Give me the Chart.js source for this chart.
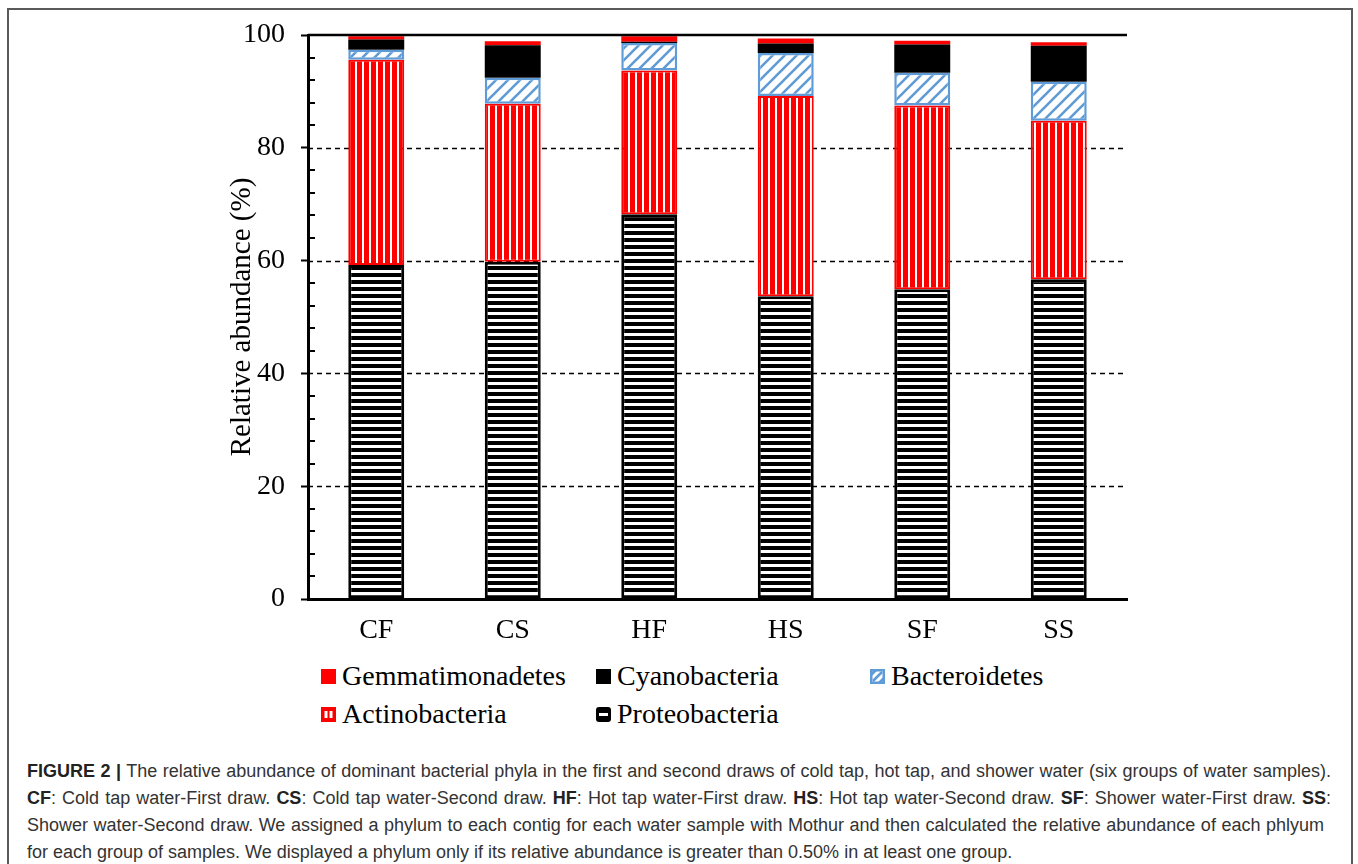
<!DOCTYPE html>
<html>
<head>
<meta charset="utf-8">
<script src="https://cdn.jsdelivr.net/npm/chart.js@4.4.1/dist/chart.umd.min.js"></script>
<style>
  html, body { margin: 0; padding: 0; background: #fff; }
  body { width: 1358px; height: 864px; position: relative; overflow: hidden; }
  #frame { position: absolute; left: 7px; top: 8px; width: 1346px; height: 900px; border: 2px solid #5a5a5a; box-sizing: border-box; }
  #plot { position: absolute; left: 0; top: 0; width: 1358px; height: 660px; }
  .lg { position: absolute; font-family: "Liberation Serif", "Times New Roman", serif; font-size: 28px; line-height: 28px; color: #000; white-space: nowrap; }
  .sw { position: absolute; width: 15px; height: 15px; }
  .cap { position: absolute; left: 27px; width: 1304px; font-family: "Liberation Sans Narrow", "Liberation Sans", Arial, sans-serif; font-size: 18px; line-height: 27px; color: #333; white-space: nowrap; }
  .cap.j { text-align: justify; text-align-last: justify; }
  .cap b { font-weight: bold; color: #222; }
</style>
</head>
<body>
<div id="frame"></div>
<div id="plot"><canvas id="c" width="1358" height="660"></canvas></div>
<div id="legend"></div>
<div class="cap j" style="top:758px"><b>FIGURE 2 |</b> The relative abundance of dominant bacterial phyla in the first and second draws of cold tap, hot tap, and shower water (six groups of water samples).</div>
<div class="cap j" style="top:785px"><b>CF</b>: Cold tap water-First draw. <b>CS</b>: Cold tap water-Second draw. <b>HF</b>: Hot tap water-First draw. <b>HS</b>: Hot tap water-Second draw. <b>SF</b>: Shower water-First draw. <b>SS</b>:</div>
<div class="cap j" style="top:812px;width:1297px">Shower water-Second draw. We assigned a phylum to each contig for each water sample with Mothur and then calculated the relative abundance of each phlyum</div>
<div class="cap" style="top:839px">for each group of samples. We displayed a phylum only if its relative abundance is greater than 0.50% in at least one group.</div>

<script>
// Sample groups and relative abundance (%) of each phylum
const categories = ['CF', 'CS', 'HF', 'HS', 'SF', 'SS'];
const proteobacteria   = [59.2, 59.8, 68.2, 53.7, 54.9, 56.7];
const actinobacteria   = [36.4, 28.0, 25.5, 35.5, 32.6, 28.1];
const bacteroidetes    = [1.8, 4.6, 4.9, 7.6, 5.8, 6.9];
const cyanobacteria    = [1.8, 5.8, 0.2, 1.7, 5.0, 6.4];
const gemmatimonadetes = [0.6, 0.7, 1.0, 0.9, 0.7, 0.6];

const yTickValues = [0, 20, 40, 60, 80, 100];
const dashedGridValues = [20, 40, 60, 80];

const RED = '#ff0000';
const BLUE = '#5f9bd6';
const BLACK = '#000000';

// ---- fill patterns ----
function makeTile(w, h, draw) {
  const t = document.createElement('canvas');
  t.width = w; t.height = h;
  draw(t.getContext('2d'), w, h);
  return t;
}
const ctxMain = document.getElementById('c').getContext('2d');

const hStripeTile = makeTile(8, 7, (g) => {
  g.fillStyle = BLACK; g.fillRect(0, 0, 8, 7);
  g.fillStyle = '#fff'; g.fillRect(0, 4, 8, 3);
});
const vStripeTile = makeTile(7, 8, (g) => {
  g.fillStyle = RED; g.fillRect(0, 0, 7, 8);
  g.fillStyle = '#fff'; g.fillRect(5, 0, 2, 8);
});
const diagTile = makeTile(12, 12, (g) => {
  g.fillStyle = '#fff'; g.fillRect(0, 0, 12, 12);
  g.strokeStyle = BLUE; g.lineWidth = 2.6;
  g.beginPath();
  g.moveTo(-2, 14); g.lineTo(14, -2);
  g.moveTo(-2, 2); g.lineTo(2, -2);
  g.moveTo(10, 14); g.lineTo(14, 10);
  g.stroke();
});
const proteoFill = ctxMain.createPattern(hStripeTile, 'repeat');
const actinoFill = ctxMain.createPattern(vStripeTile, 'repeat');
const bactFill = ctxMain.createPattern(diagTile, 'repeat');

// ---- axis decorations: dashed grid, inward minor ticks, top rule ----
const axisDecor = {
  id: 'axisDecor',
  beforeDatasetsDraw(chart) {
    const { ctx, chartArea: a, scales: { y } } = chart;
    ctx.save();
    ctx.strokeStyle = BLACK;
    ctx.lineWidth = 1.4;
    ctx.setLineDash([5, 4]);
    dashedGridValues.forEach(v => {
      const py = Math.round(y.getPixelForValue(v)) + 0.5;
      ctx.beginPath(); ctx.moveTo(a.left, py); ctx.lineTo(a.right, py); ctx.stroke();
    });
    ctx.restore();
  },
  afterDatasetsDraw(chart) {
    const { ctx, chartArea: a, scales: { y } } = chart;
    ctx.save();
    ctx.strokeStyle = BLACK;
    // minor ticks every 4 units, pointing into the plot
    ctx.lineWidth = 2;
    for (let v = 4; v < 100; v += 4) {
      if (v % 20 === 0) continue;
      const py = Math.round(y.getPixelForValue(v));
      ctx.beginPath(); ctx.moveTo(a.left, py); ctx.lineTo(a.left + 7, py); ctx.stroke();
    }
    // solid rule at the top of the scale
    ctx.lineWidth = 2.5;
    const top = y.getPixelForValue(100);
    ctx.beginPath(); ctx.moveTo(a.left, top); ctx.lineTo(a.right, top); ctx.stroke();
    ctx.restore();
  }
};

const serifFamily = '"Liberation Serif", "Times New Roman", serif';
const tickFont = { family: serifFamily, size: 28 };
const titleFont = { family: serifFamily, size: 29 };

new Chart(document.getElementById('c'), {
  type: 'bar',
  data: {
    labels: categories,
    datasets: [
      { label: 'Proteobacteria', data: proteobacteria, backgroundColor: proteoFill, borderColor: BLACK, borderWidth: 3 },
      { label: 'Actinobacteria', data: actinobacteria, backgroundColor: actinoFill, borderColor: RED, borderWidth: 2 },
      { label: 'Bacteroidetes', data: bacteroidetes, backgroundColor: bactFill, borderColor: BLUE, borderWidth: 2.5 },
      { label: 'Cyanobacteria', data: cyanobacteria, backgroundColor: BLACK, borderColor: BLACK, borderWidth: 0 },
      { label: 'Gemmatimonadetes', data: gemmatimonadetes, backgroundColor: RED, borderColor: RED, borderWidth: 0 }
    ]
  },
  options: {
    responsive: false,
    devicePixelRatio: 1,
    animation: false,
    layout: { padding: { left: 209, right: 231, top: 35, bottom: 0 } },
    datasets: { bar: { categoryPercentage: 1, barPercentage: 0.41, borderSkipped: false } },
    plugins: { legend: { display: false }, tooltip: { enabled: false } },
    scales: {
      x: {
        stacked: true,
        grid: { display: true, drawOnChartArea: false, drawTicks: false },
        border: { display: true, color: BLACK, width: 3 },
        ticks: { color: BLACK, font: tickFont, padding: 15 },
        afterFit(scale) { scale.height = 61; }
      },
      y: {
        stacked: true,
        min: 0, max: 100,
        afterBuildTicks(scale) { scale.ticks = yTickValues.map(v => ({ value: v })); },
        grid: { display: true, drawOnChartArea: false, drawTicks: true, tickLength: 7, tickWidth: 2, tickColor: BLACK },
        border: { display: true, color: BLACK, width: 3 },
        ticks: { color: BLACK, font: tickFont, padding: 16 },
        title: { display: true, text: 'Relative abundance (%)', color: BLACK, font: titleFont, padding: { top: 16, bottom: 0 } },
        afterFit(scale) { scale.width = 99; }
      }
    }
  },
  plugins: [axisDecor]
});

// ---- legend ----
const legendItems = [
  { name: 'Gemmatimonadetes', x: 321, y: 669, kind: 'gemm' },
  { name: 'Cyanobacteria', x: 596, y: 669, kind: 'cyano' },
  { name: 'Bacteroidetes', x: 870, y: 669, kind: 'bact' },
  { name: 'Actinobacteria', x: 321, y: 707, kind: 'actino' },
  { name: 'Proteobacteria', x: 596, y: 707, kind: 'proteo' }
];
function drawSwatch(g, kind) {
  if (kind === 'gemm') { g.fillStyle = RED; g.fillRect(0, 0, 15, 15); }
  if (kind === 'cyano') { g.fillStyle = BLACK; g.fillRect(0, 0, 15, 15); }
  if (kind === 'bact') {
    g.fillStyle = '#fff'; g.fillRect(0, 0, 15, 15);
    g.strokeStyle = BLUE; g.lineWidth = 2.5;
    g.beginPath(); g.moveTo(3, 12); g.lineTo(12, 3); g.stroke();
    g.beginPath(); g.moveTo(1, 6); g.lineTo(6, 1); g.stroke();
    g.beginPath(); g.moveTo(9, 14); g.lineTo(14, 9); g.stroke();
    g.lineWidth = 2.5; g.strokeRect(1.25, 1.25, 12.5, 12.5);
  }
  if (kind === 'actino') {
    g.fillStyle = RED; g.fillRect(0, 0, 15, 15);
    g.fillStyle = '#fff'; g.fillRect(3.5, 4, 3, 7); g.fillRect(8.5, 4, 3, 7);
  }
  if (kind === 'proteo') {
    g.fillStyle = BLACK;
    g.beginPath();
    if (g.roundRect) g.roundRect(0, 0, 15, 15, 3); else g.rect(0, 0, 15, 15);
    g.fill();
    g.fillStyle = '#fff'; g.fillRect(3, 6, 9, 3);
  }
}
const legendEl = document.getElementById('legend');
legendItems.forEach(it => {
  const cv = document.createElement('canvas');
  cv.width = 15; cv.height = 15; cv.className = 'sw';
  cv.style.left = it.x + 'px'; cv.style.top = it.y + 'px';
  drawSwatch(cv.getContext('2d'), it.kind);
  legendEl.appendChild(cv);
  const t = document.createElement('div');
  t.className = 'lg';
  t.textContent = it.name;
  t.style.left = (it.x + 21) + 'px';
  t.style.top = (it.y - 7) + 'px';
  legendEl.appendChild(t);
});
</script>
</body>
</html>
